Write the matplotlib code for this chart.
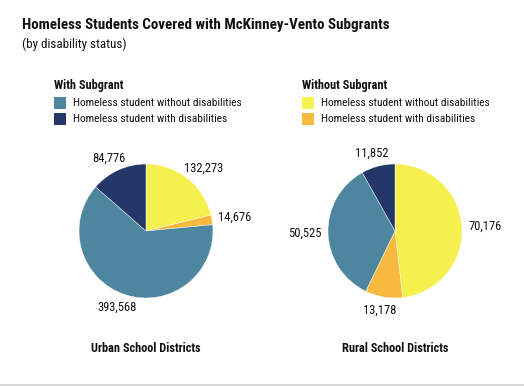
import numpy as np
import matplotlib
matplotlib.use("Agg")
import matplotlib.pyplot as plt
from matplotlib.patches import Rectangle
from matplotlib.lines import Line2D

FONT = ['Liberation Sans Narrow', 'Roboto Condensed', 'DejaVu Sans']
plt.rcParams['font.family'] = FONT

title = "Homeless Students Covered with McKinney-Vento Subgrants"
subtitle = "(by disability status)"
district_names = ["Urban School Districts", "Rural School Districts"]
slice_names = ["Without subgrant, without disabilities",
               "Without subgrant, with disabilities",
               "With subgrant, without disabilities",
               "With subgrant, with disabilities"]
urban_values = [132273, 14676, 393568, 84776]
rural_values = [70176, 13178, 50525, 11852]
slice_colors = ["#F4F04E", "#F7BA3F", "#4E86A0", "#243769"]

legend_groups = ["With Subgrant", "Without Subgrant"]
legend_items = ["Homeless student without disabilities",
                "Homeless student with disabilities"]
legend_colors = [["#4E86A0", "#243769"], ["#F4F04E", "#F7BA3F"]]

W, H = 524, 386
fig = plt.figure(figsize=(W / 100, H / 100), dpi=100)
fig.patch.set_facecolor("white")

def fx(px):
    return px / W

def fy(py):
    return 1 - py / H

# Titles
fig.text(fx(22), fy(25), title, fontsize=10.8, fontweight='bold', ha='left', va='center', color='#111111')
fig.text(fx(22), fy(44), subtitle, fontsize=9.4, ha='left', va='center', color='#111111')

# Legend
legend_x = [54, 302]
for gi, group in enumerate(legend_groups):
    x0 = legend_x[gi]
    fig.text(fx(x0), fy(86), group, fontsize=8.8, fontweight='bold', ha='left', va='center', color='#111111')
    for ii, item in enumerate(legend_items):
        yc = 103 + ii * 16
        fig.patches.append(Rectangle((fx(x0), fy(yc + 6)), 12 / W, 12 / H,
                                     transform=fig.transFigure, facecolor=legend_colors[gi][ii],
                                     edgecolor='none'))
        fig.text(fx(x0 + 19), fy(yc), item, fontsize=8.2, ha='left', va='center', color='#111111')

# Pies
R = 67
centers = [(146, 231), (395, 231)]
for values, (cx, cy), name in zip([urban_values, rural_values], centers, district_names):
    half = 100
    ax = fig.add_axes([fx(cx - half), fy(cy + half), 2 * half / W, 2 * half / H])
    L = half / R
    wedges, _ = ax.pie(values, colors=slice_colors, startangle=90, counterclock=False,
                       radius=1, wedgeprops=dict(edgecolor='white', linewidth=0.3))
    ax.set_xlim(-L, L)
    ax.set_ylim(-L, L)
    ax.set_aspect('equal')
    ax.axis('off')
    fig.canvas.draw()
    renderer = fig.canvas.get_renderer()
    for w, v in zip(wedges, values):
        ang = np.deg2rad((w.theta1 + w.theta2) / 2)
        c, s = np.cos(ang), np.sin(ang)
        t = ax.text(1.1 * c, 1.1 * s, f"{v:,}", fontsize=9, ha='center', va='center', color='#111111')
        bb = t.get_window_extent(renderer)
        t.remove()
        ax.annotate(f"{v:,}", xy=(1.1 * c, 1.1 * s), xytext=(bb.width / 2 * c, bb.height / 2 * s),
                    textcoords='offset pixels', fontsize=9, ha='center', va='center', color='#111111')
    fig.text(fx(cx), fy(348), name, fontsize=8.8, fontweight='bold', ha='center', va='center', color='#111111')

fig.lines.append(Line2D([0, 1], [fy(385), fy(385)], transform=fig.transFigure, color='#d0d0d0', linewidth=1.2))

fig.savefig("out.png", dpi=100, facecolor='white')
